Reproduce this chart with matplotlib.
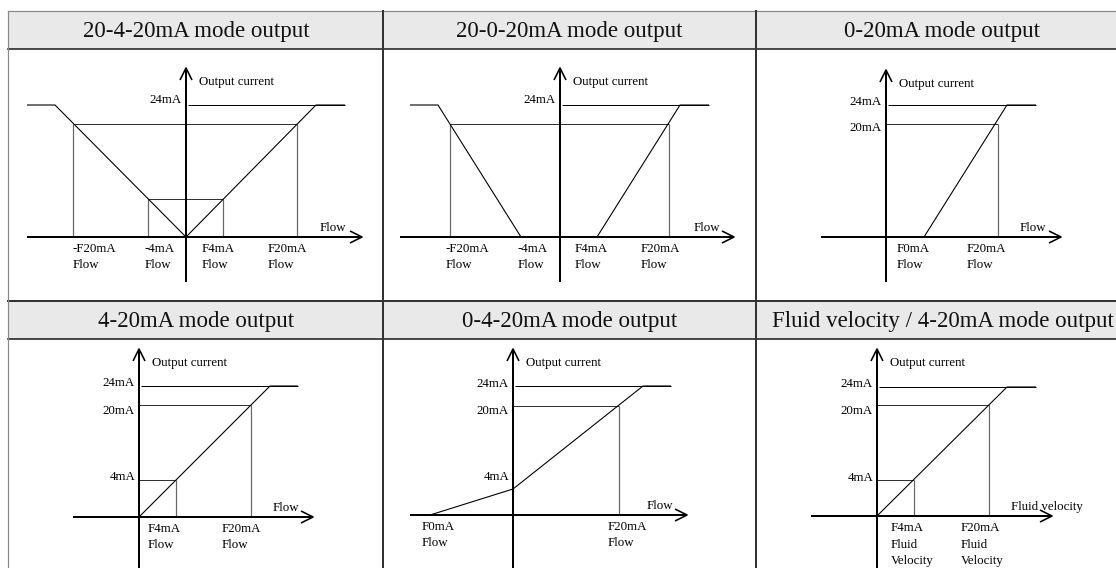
import matplotlib
matplotlib.use("Agg")
import matplotlib.pyplot as plt
from matplotlib.patches import Rectangle

############################
#  TABLE LAYOUT (pixels)
############################

col_edges = [9, 383, 756, 1129]
row_tops = [11, 301]
header_h = 38

titles = ["20-4-20mA mode output", "20-0-20mA mode output", "0-20mA mode output",
          "4-20mA mode output", "0-4-20mA mode output",
          "Fluid velocity / 4-20mA mode output"]

# axis origins of each sketch
origins = [(186, 237), (560, 237), (886, 237),
           (139, 517), (513, 515), (877, 516)]

############################
#  SKETCH DATA
############################
# points relative to the origin, x to the right, y up (sketch units)

curves = [
    [(-159, 132), (-131, 132), (0, 0), (130, 132), (159, 132)],
    [(-150, 132), (-122, 132), (-39, 0), (37, 0), (120, 132), (149, 132)],
    [(-27, 0), (38, 0), (121, 132), (150, 132)],
    [(0, 0), (131, 131), (159, 131)],
    [(-83, 0), (0, 26), (130, 129), (158, 129)],
    [(-27, 0), (0, 0), (130, 129), (159, 129)],
]

# 24mA level line: (level, x_end)
lvl24 = [(132, 159), (132, 149), (132, 150), (131, 159), (129, 158), (129, 159)]

# 20mA box: (level, x_left, x_right) ; verticals drawn at both ends (x_left=0 -> only right)
lvl20 = [(113, -113, 111), (113, -110, 109), (113, 0, 112),
         (112, 0, 112), (109, 0, 106), (111, 0, 112)]

# 4mA box
lvl4 = [(38, -38, 37), None, None, (37, 0, 37), None, (36, 0, 37)]

# axis extents: (x_min, x_max, y_min, y_max)
axes_ext = [(-159, 176, -45, 169), (-160, 174, -45, 169), (-65, 175, -45, 167),
            (-66, 174, -51, 168), (-103, 174, -53, 166), (-66, 175, -52, 167)]

# y labels: (text, y)
ylabels = [
    [("24mA", 137)],
    [("24mA", 137)],
    [("24mA", 135), ("20mA", 109)],
    [("24mA", 134), ("20mA", 106), ("4mA", 40)],
    [("24mA", 131), ("20mA", 104), ("4mA", 38)],
    [("24mA", 132), ("20mA", 105), ("4mA", 38)],
]

# x labels below the axis: (x, text)
xlabels = [
    [(-113, "-F20mA\nFlow"), (-41, "-4mA\nFlow"), (16, "F4mA\nFlow"), (82, "F20mA\nFlow")],
    [(-114, "-F20mA\nFlow"), (-42, "-4mA\nFlow"), (15, "F4mA\nFlow"), (81, "F20mA\nFlow")],
    [(11, "F0mA\nFlow"), (81, "F20mA\nFlow")],
    [(9, "F4mA\nFlow"), (83, "F20mA\nFlow")],
    [(-91, "F0mA\nFlow"), (95, "F20mA\nFlow")],
    [(14, "F4mA\nFluid\nVelocity"), (84, "F20mA\nFluid\nVelocity")],
]

xnames = ["Flow", "Flow", "Flow", "Flow", "Flow", "Fluid velocity"]
yname = "Output current"

############################
# PLOT
############################

plt.rcParams['font.family'] = ['Liberation Serif', 'DejaVu Serif']

fig = plt.figure(figsize=(11.16, 5.68), dpi=100)
ax = fig.add_axes([0, 0, 1, 1])
ax.set_xlim(0, 1116)
ax.set_ylim(568, 0)
ax.axis('off')

PX = 0.72  # one pixel in points
left = col_edges[0] - 1

#------ TABLE ---------------------------
for r in range(2):
    top = row_tops[r]
    for c in range(3):
        x0, x1 = col_edges[c], col_edges[c + 1]
        ax.add_patch(Rectangle((x0, top), x1 - x0, header_h, facecolor='#e9e9e9',
                               edgecolor='none', zorder=0))
        ax.text((x0 + x1) / 2, top + header_h / 2 + 1, titles[r * 3 + c], fontsize=16.5,
                ha='center', va='center', color='#111111')
    ax.plot([left, 1130], [top + header_h, top + header_h], color='#222222', lw=1.6 * PX)

ax.plot([left, 1130], [row_tops[0], row_tops[0]], color='#888888', lw=1.2 * PX)
ax.plot([left, 1130], [row_tops[1], row_tops[1]], color='#333333', lw=2 * PX)
ax.plot([left, left], [row_tops[0], 600], color='#888888', lw=1.2 * PX)
for xe in col_edges[1:3]:
    ax.plot([xe, xe], [row_tops[0], 600], color='#333333', lw=2 * PX)

#------ SKETCHES ------------------------
for i, (ox, oy) in enumerate(origins):
    P = lambda x, y: (ox + x, oy - y)

    def seg(pts, **kw):
        xs = [P(*p)[0] for p in pts]
        ys = [P(*p)[1] for p in pts]
        ax.plot(xs, ys, solid_capstyle='butt', **kw)

    # 20mA and 4mA boxes
    for box in (lvl20[i], lvl4[i]):
        if box is None:
            continue
        lv, xl, xr = box
        seg([(xl, lv), (xr, lv)], color='#333333', lw=1 * PX)
        seg([(xr, lv), (xr, 0)], color='#666666', lw=1.2 * PX)
        if xl != 0:
            seg([(xl, lv), (xl, 0)], color='#666666', lw=1.2 * PX)

    # 24mA level
    lv, xe = lvl24[i]
    seg([(2, lv), (xe, lv)], color='black', lw=1 * PX)

    # output curve
    seg(curves[i], color='black', lw=1.1 * PX)

    # axes
    xmin, xmax, ymin, ymax = axes_ext[i]
    seg([(xmin, 0), (xmax, 0)], color='black', lw=2 * PX)
    seg([(0, ymin), (0, ymax)], color='black', lw=2 * PX)
    seg([(xmax - 12, 6), (xmax, 0), (xmax - 12, -6)], color='black', lw=1.6 * PX)
    seg([(-6, ymax - 12), (0, ymax), (6, ymax - 12)], color='black', lw=1.6 * PX)

    # labels
    tx, ty = P(13, ymax - 14)
    ax.text(tx, ty, yname, fontsize=9.3, ha='left', va='center')
    tx, ty = P(134, 3)
    ax.text(tx, ty, xnames[i], fontsize=9.3, ha='left', va='bottom')
    for txt, yv in ylabels[i]:
        tx, ty = P(-4, yv)
        ax.text(tx, ty, txt, fontsize=9.3, ha='right', va='center')
    for xv, txt in xlabels[i]:
        tx, ty = P(xv, -6)
        ax.text(tx, ty, txt, fontsize=9.3, ha='left', va='top', linespacing=1.5)

fig.savefig('out.png', dpi=100)
